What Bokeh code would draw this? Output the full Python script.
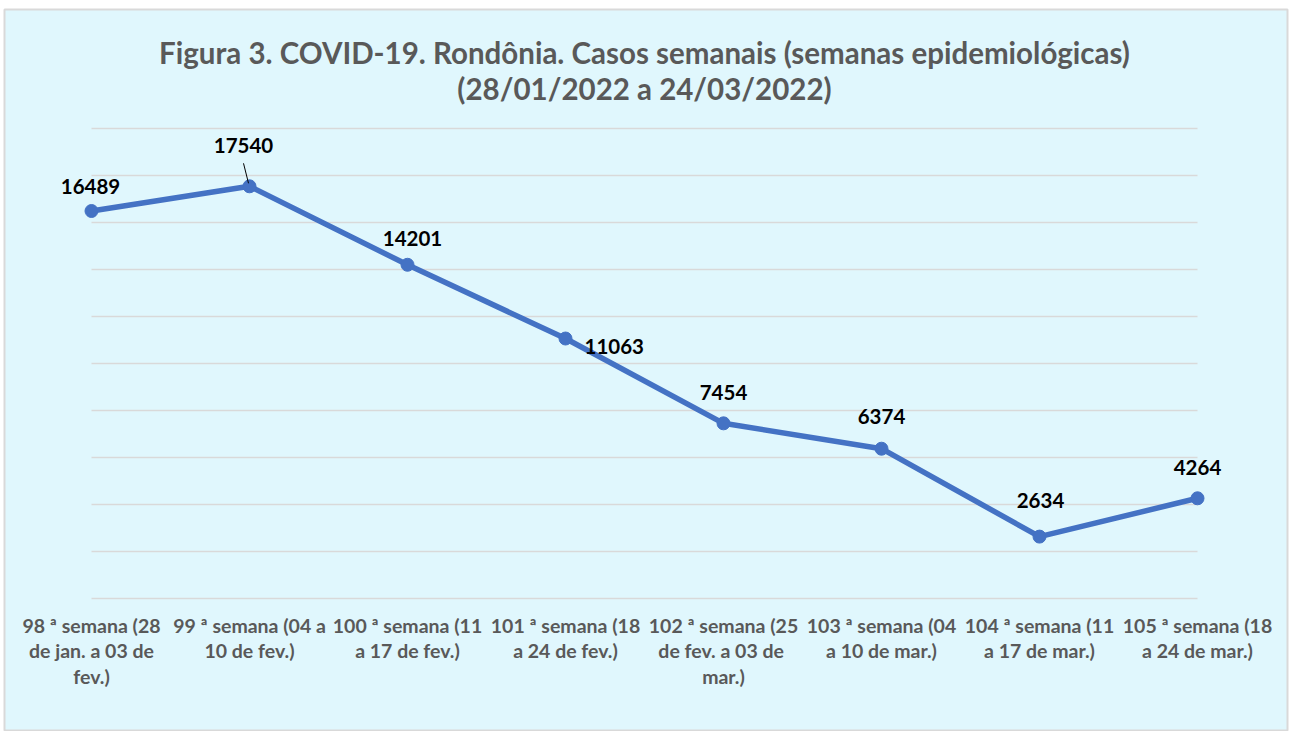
from bokeh.plotting import figure
from bokeh.models import ColumnDataSource, Range1d
from bokeh.embed import file_html
from bokeh.resources import INLINE
from bokeh.core.properties import value

# ---- data ----
weeks = [
    "98 ª semana (28\nde jan. a 03 de\nfev.)",
    "99 ª semana (04 a\n10 de fev.)",
    "100 ª semana (11\na 17 de fev.)",
    "101 ª semana (18\na 24 de fev.)",
    "102 ª semana (25\nde fev. a  03 de\nmar.)",
    "103 ª semana (04\na 10 de mar.)",
    "104 ª semana (11\na 17 de mar.)",
    "105 ª semana (18\na 24 de mar.)",
]
cases = [16489, 17540, 14201, 11063, 7454, 6374, 2634, 4264]
grid_values = list(range(0, 20001, 2000))
title_lines = [
    "Figura 3. COVID-19. Rondônia. Casos semanais (semanas epidemiológicas)",
    "(28/01/2022 a 24/03/2022)",
]

# ---- layout ----
W, H = 1290, 731
B_LEFT, B_RIGHT, B_TOP = 4, 3, 9
FW, FH = W - B_LEFT - B_RIGHT, H - B_TOP
px_per_x = 158.0
px_per_y = 470.0 / 20000.0
left_px = 87.0
top_px = 119.0
idx = list(range(len(cases)))

FONT = "Lato"
BG = "#E0F7FD"
GRID = "#D9D9D9"
LINE = "#4472C4"
GRAY = "#595959"

p = figure(width=W, height=H, output_backend="svg", toolbar_location=None,
           x_range=Range1d(-left_px / px_per_x, (FW - left_px) / px_per_x),
           y_range=Range1d(-(FH - top_px - 470) / px_per_y, 20000 + top_px / px_per_y),
           min_border_left=B_LEFT, min_border_right=B_RIGHT,
           min_border_top=B_TOP, min_border_bottom=0)
p.axis.visible = False
p.grid.visible = False
p.background_fill_color = BG
p.border_fill_color = "white"
p.outline_line_color = GRID
p.outline_line_width = 2

# gridlines from first to last category
p.segment(x0=[idx[0]] * len(grid_values), x1=[idx[-1]] * len(grid_values),
          y0=grid_values, y1=grid_values, line_color=GRID, line_width=1.6)

# series
src = ColumnDataSource(dict(
    x=idx, y=cases, lab=[str(c) for c in cases],
    xo=[-1, -6, 5, 19, 0, 0, 1, 0],
    yo=[-25, -41, -26, 8, -31, -32, -36, -31],
    al=["center", "center", "center", "left", "center", "center", "center", "center"],
))
p.line("x", "y", source=src, line_color=LINE, line_width=5.5)
p.scatter("x", "y", source=src, size=13, fill_color=LINE, line_color=LINE)

# leader line for the second label
p.segment(x0=[idx[1] - 1 / px_per_x], y0=[cases[1] + 3 / px_per_y],
          x1=[idx[1] - 6 / px_per_x], y1=[cases[1] + 23 / px_per_y],
          line_color="black", line_width=1)

p.text("x", "y", text="lab", source=src, x_offset="xo", y_offset="yo",
       text_align="al", text_baseline="middle",
       text_font=value(FONT), text_font_style="bold", text_font_size="20.5px",
       text_color="black")

# category labels
p.text(x=idx, y=[0] * len(idx), text=weeks, y_offset=15,
       text_align="center", text_baseline="top", text_line_height=1.13,
       text_font=value(FONT), text_font_style="bold", text_font_size="19.5px",
       text_color=GRAY)

# title
mid = sum(idx) / len(idx)
p.text(x=[mid, mid], y=[20000, 20000], text=title_lines, y_offset=[-76, -40],
       text_align="center", text_baseline="middle",
       text_font=value(FONT), text_font_style="bold", text_font_size="29.5px",
       text_color=GRAY)

open("out.html", "w").write(file_html(p, INLINE))
